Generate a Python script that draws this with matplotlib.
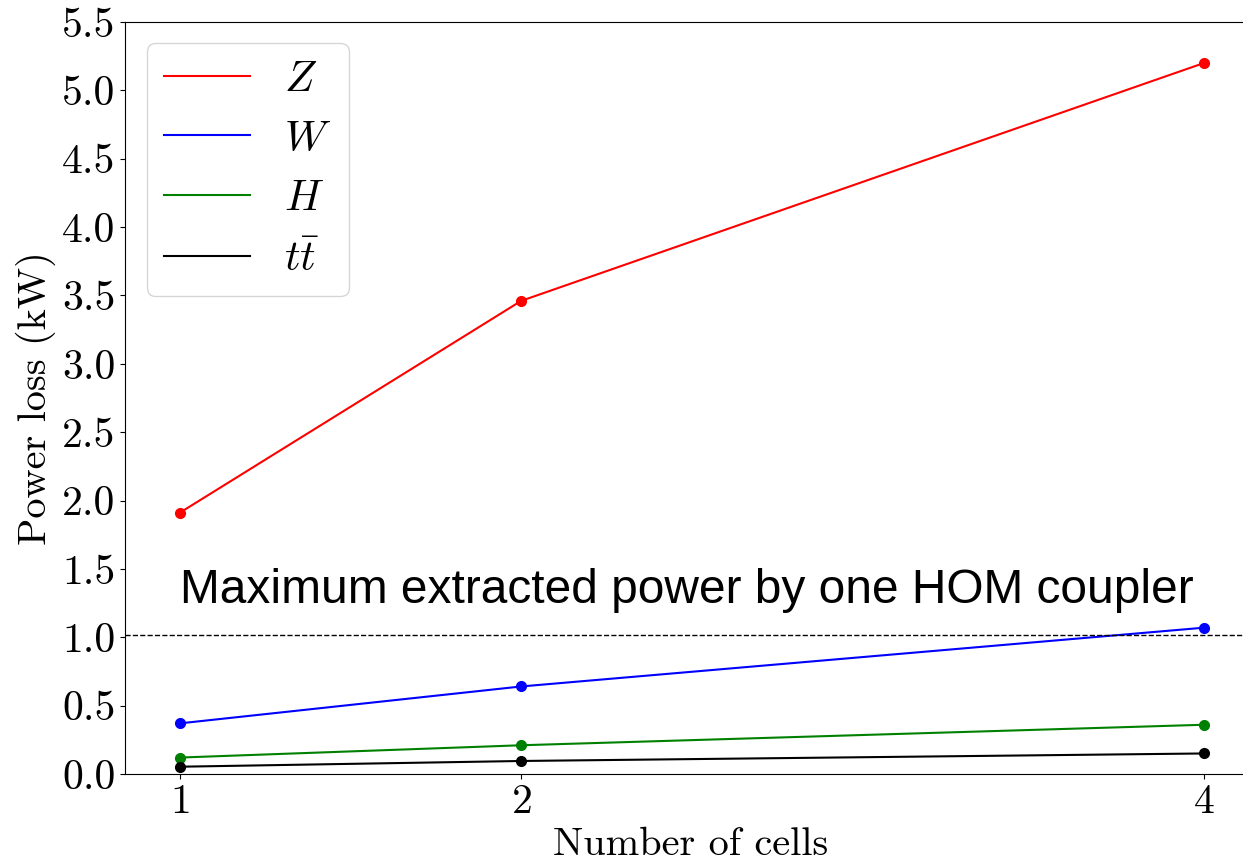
import matplotlib
matplotlib.use("Agg")
import matplotlib.pyplot as plt

plt.rcParams['font.family'] = 'serif'
plt.rcParams['font.serif'] = ['cmr10']
plt.rcParams['mathtext.fontset'] = 'cm'
plt.rcParams['axes.formatter.use_mathtext'] = True

cells = [1, 2, 4]
power_Z = [1.91, 3.46, 5.20]
power_W = [0.37, 0.64, 1.07]
power_H = [0.12, 0.21, 0.36]
power_tt = [0.053, 0.095, 0.15]
max_hom = 1.02

fig = plt.figure(figsize=(12.43, 8.64), dpi=100)
ax = fig.add_axes([0.1006, 0.1042, 0.9093, 0.8704])

ax.plot(cells, power_Z, color='red', marker='o', markersize=7, label=r'$Z$')
ax.plot(cells, power_W, color='blue', marker='o', markersize=7, label=r'$W$')
ax.plot(cells, power_H, color='green', marker='o', markersize=7, label=r'$H$')
ax.plot(cells, power_tt, color='black', marker='o', markersize=7, label=r'$t\bar{t}$')
ax.axhline(max_hom, color='black', linestyle='--', linewidth=1)
ax.text(1.0, 1.25, "Maximum extracted power by one HOM coupler",
        fontsize=34.5, family='Liberation Sans')

ax.set_xlim(0.84, 4.15)
ax.set_ylim(0, 5.5)
ax.set_xticks(cells)
ax.set_yticks([0.0, 0.5, 1.0, 1.5, 2.0, 2.5, 3.0, 3.5, 4.0, 4.5, 5.0, 5.5])
ax.set_yticklabels(["0.0", "0.5", "1.0", "1.5", "2.0", "2.5", "3.0", "3.5", "4.0", "4.5", "5.0", "5.5"])
ax.tick_params(labelsize=30)
ax.set_xlabel("Number of cells", fontsize=29)
ax.set_ylabel("Power loss (kW)", fontsize=29)
leg = ax.legend(loc='upper left', fontsize=31)
for h in leg.get_lines():
    h.set_marker('')

fig.savefig("out.png", dpi=100)
